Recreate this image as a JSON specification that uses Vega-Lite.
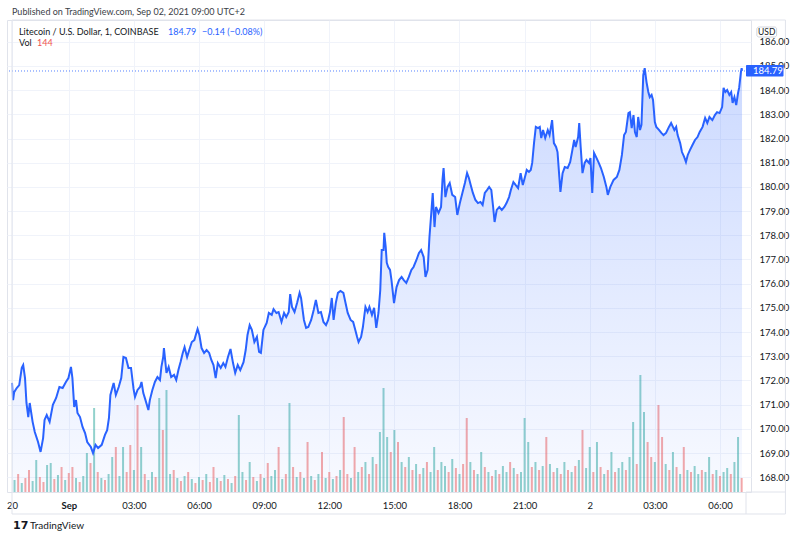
{
  "$schema": "https://vega.github.io/schema/vega-lite/v6.json",
  "width": 744,
  "height": 472,
  "autosize": {"type": "none"},
  "padding": {"left": 7, "top": 20, "right": 49, "bottom": 47},
  "background": "#ffffff",
  "config": {
    "view": {"stroke": "#e0e3eb", "strokeWidth": 1},
    "font": "Lato",
    "text": {"font": "Lato"},
    "axis": {"labelFont": "Lato", "labelFontSize": 9.5, "labelColor": "#131722", "gridColor": "#f0f3fa", "domain": false, "ticks": false, "labelOverlap": false},
    "axisQuantitative": {"tickCount": 20, "labelOverlap": false}
  },
  "datasets": {
    "price": [
      {"t":"2021-08-31T21:23:00Z","p":171.90},{"t":"2021-08-31T21:26:00Z","p":171.19},{"t":"2021-08-31T21:29:00Z","p":171.52},{"t":"2021-08-31T21:36:00Z","p":171.69},{"t":"2021-08-31T21:43:00Z","p":171.81},{"t":"2021-08-31T21:50:00Z","p":172.52},{"t":"2021-08-31T21:54:00Z","p":172.64},{"t":"2021-08-31T21:59:00Z","p":172.10},{"t":"2021-08-31T22:03:00Z","p":171.07},{"t":"2021-08-31T22:08:00Z","p":170.49},
      {"t":"2021-08-31T22:12:00Z","p":171.07},{"t":"2021-08-31T22:20:00Z","p":170.29},{"t":"2021-08-31T22:26:00Z","p":169.87},{"t":"2021-08-31T22:35:00Z","p":169.46},{"t":"2021-08-31T22:42:00Z","p":169.05},{"t":"2021-08-31T22:49:00Z","p":169.62},{"t":"2021-08-31T22:53:00Z","p":170.37},{"t":"2021-08-31T22:59:00Z","p":170.57},{"t":"2021-08-31T23:07:00Z","p":170.29},{"t":"2021-08-31T23:16:00Z","p":170.99},
      {"t":"2021-08-31T23:25:00Z","p":171.28},{"t":"2021-08-31T23:34:00Z","p":171.73},{"t":"2021-08-31T23:43:00Z","p":171.69},{"t":"2021-08-31T23:52:00Z","p":171.94},{"t":"2021-08-31T23:59:00Z","p":172.10},{"t":"2021-09-01T00:06:00Z","p":172.56},{"t":"2021-09-01T00:10:00Z","p":172.10},{"t":"2021-09-01T00:15:00Z","p":170.91},{"t":"2021-09-01T00:20:00Z","p":171.19},{"t":"2021-09-01T00:24:00Z","p":170.66},
      {"t":"2021-09-01T00:31:00Z","p":170.49},{"t":"2021-09-01T00:38:00Z","p":170.08},{"t":"2021-09-01T00:45:00Z","p":169.83},{"t":"2021-09-01T00:51:00Z","p":169.46},{"t":"2021-09-01T01:01:00Z","p":169.25},{"t":"2021-09-01T01:07:00Z","p":169.00},{"t":"2021-09-01T01:14:00Z","p":169.34},{"t":"2021-09-01T01:21:00Z","p":169.21},{"t":"2021-09-01T01:31:00Z","p":169.34},{"t":"2021-09-01T01:40:00Z","p":169.75},
      {"t":"2021-09-01T01:46:00Z","p":169.95},{"t":"2021-09-01T01:51:00Z","p":170.45},{"t":"2021-09-01T01:55:00Z","p":171.40},{"t":"2021-09-01T02:04:00Z","p":171.90},{"t":"2021-09-01T02:10:00Z","p":171.40},{"t":"2021-09-01T02:18:00Z","p":171.73},{"t":"2021-09-01T02:25:00Z","p":172.10},{"t":"2021-09-01T02:31:00Z","p":172.97},{"t":"2021-09-01T02:38:00Z","p":172.93},{"t":"2021-09-01T02:45:00Z","p":172.52},
      {"t":"2021-09-01T02:52:00Z","p":172.52},{"t":"2021-09-01T02:59:00Z","p":171.65},{"t":"2021-09-01T03:03:00Z","p":171.32},{"t":"2021-09-01T03:10:00Z","p":171.61},{"t":"2021-09-01T03:17:00Z","p":171.73},{"t":"2021-09-01T03:21:00Z","p":171.94},{"t":"2021-09-01T03:26:00Z","p":171.48},{"t":"2021-09-01T03:32:00Z","p":171.19},{"t":"2021-09-01T03:40:00Z","p":170.78},{"t":"2021-09-01T03:44:00Z","p":171.19},
      {"t":"2021-09-01T03:51:00Z","p":171.61},{"t":"2021-09-01T03:58:00Z","p":171.94},{"t":"2021-09-01T04:05:00Z","p":172.14},{"t":"2021-09-01T04:12:00Z","p":172.02},{"t":"2021-09-01T04:16:00Z","p":172.56},{"t":"2021-09-01T04:21:00Z","p":172.97},{"t":"2021-09-01T04:23:00Z","p":173.34},{"t":"2021-09-01T04:30:00Z","p":172.31},{"t":"2021-09-01T04:36:00Z","p":172.56},{"t":"2021-09-01T04:43:00Z","p":172.14},
      {"t":"2021-09-01T04:51:00Z","p":172.23},{"t":"2021-09-01T04:57:00Z","p":172.02},{"t":"2021-09-01T05:03:00Z","p":172.43},{"t":"2021-09-01T05:09:00Z","p":172.76},{"t":"2021-09-01T05:15:00Z","p":173.14},{"t":"2021-09-01T05:20:00Z","p":173.38},{"t":"2021-09-01T05:27:00Z","p":172.97},{"t":"2021-09-01T05:33:00Z","p":173.26},{"t":"2021-09-01T05:40:00Z","p":173.59},{"t":"2021-09-01T05:47:00Z","p":173.67},
      {"t":"2021-09-01T05:51:00Z","p":173.88},{"t":"2021-09-01T05:56:00Z","p":174.13},{"t":"2021-09-01T06:01:00Z","p":173.88},{"t":"2021-09-01T06:07:00Z","p":173.34},{"t":"2021-09-01T06:14:00Z","p":173.14},{"t":"2021-09-01T06:21:00Z","p":173.26},{"t":"2021-09-01T06:28:00Z","p":173.14},{"t":"2021-09-01T06:34:00Z","p":172.85},{"t":"2021-09-01T06:40:00Z","p":172.64},{"t":"2021-09-01T06:46:00Z","p":172.10},
      {"t":"2021-09-01T06:52:00Z","p":172.72},{"t":"2021-09-01T07:00:00Z","p":172.52},{"t":"2021-09-01T07:07:00Z","p":172.72},{"t":"2021-09-01T07:13:00Z","p":172.56},{"t":"2021-09-01T07:20:00Z","p":172.97},{"t":"2021-09-01T07:27:00Z","p":173.30},{"t":"2021-09-01T07:34:00Z","p":172.72},{"t":"2021-09-01T07:40:00Z","p":172.31},{"t":"2021-09-01T07:47:00Z","p":172.64},{"t":"2021-09-01T07:54:00Z","p":172.43},
      {"t":"2021-09-01T08:03:00Z","p":172.76},{"t":"2021-09-01T08:09:00Z","p":173.26},{"t":"2021-09-01T08:14:00Z","p":173.88},{"t":"2021-09-01T08:20:00Z","p":174.29},{"t":"2021-09-01T08:26:00Z","p":174.09},{"t":"2021-09-01T08:33:00Z","p":173.59},{"t":"2021-09-01T08:40:00Z","p":173.80},{"t":"2021-09-01T08:46:00Z","p":173.18},{"t":"2021-09-01T08:51:00Z","p":173.14},{"t":"2021-09-01T08:58:00Z","p":174.09},
      {"t":"2021-09-01T09:07:00Z","p":174.38},{"t":"2021-09-01T09:13:00Z","p":174.79},{"t":"2021-09-01T09:21:00Z","p":174.71},{"t":"2021-09-01T09:26:00Z","p":174.95},{"t":"2021-09-01T09:34:00Z","p":174.79},{"t":"2021-09-01T09:40:00Z","p":174.83},{"t":"2021-09-01T09:48:00Z","p":174.42},{"t":"2021-09-01T09:55:00Z","p":174.79},{"t":"2021-09-01T10:01:00Z","p":174.62},{"t":"2021-09-01T10:08:00Z","p":174.83},
      {"t":"2021-09-01T10:12:00Z","p":175.57},{"t":"2021-09-01T10:17:00Z","p":175.04},{"t":"2021-09-01T10:24:00Z","p":174.83},{"t":"2021-09-01T10:31:00Z","p":175.20},{"t":"2021-09-01T10:38:00Z","p":175.62},{"t":"2021-09-01T10:42:00Z","p":175.41},{"t":"2021-09-01T10:50:00Z","p":174.50},{"t":"2021-09-01T10:56:00Z","p":174.17},{"t":"2021-09-01T11:02:00Z","p":174.21},{"t":"2021-09-01T11:10:00Z","p":174.50},
      {"t":"2021-09-01T11:17:00Z","p":174.91},{"t":"2021-09-01T11:23:00Z","p":175.33},{"t":"2021-09-01T11:30:00Z","p":174.79},{"t":"2021-09-01T11:37:00Z","p":174.83},{"t":"2021-09-01T11:44:00Z","p":174.42},{"t":"2021-09-01T11:51:00Z","p":174.29},{"t":"2021-09-01T11:57:00Z","p":174.50},{"t":"2021-09-01T12:02:00Z","p":174.83},{"t":"2021-09-01T12:07:00Z","p":175.41},{"t":"2021-09-01T12:12:00Z","p":174.50},
      {"t":"2021-09-01T12:18:00Z","p":175.20},{"t":"2021-09-01T12:24:00Z","p":175.62},{"t":"2021-09-01T12:31:00Z","p":175.70},{"t":"2021-09-01T12:39:00Z","p":175.62},{"t":"2021-09-01T12:45:00Z","p":175.20},{"t":"2021-09-01T12:51:00Z","p":174.79},{"t":"2021-09-01T12:59:00Z","p":174.50},{"t":"2021-09-01T13:06:00Z","p":174.42},{"t":"2021-09-01T13:12:00Z","p":174.09},{"t":"2021-09-01T13:17:00Z","p":173.80},
      {"t":"2021-09-01T13:21:00Z","p":173.59},{"t":"2021-09-01T13:28:00Z","p":173.80},{"t":"2021-09-01T13:33:00Z","p":174.21},{"t":"2021-09-01T13:40:00Z","p":175.04},{"t":"2021-09-01T13:46:00Z","p":174.83},{"t":"2021-09-01T13:51:00Z","p":175.04},{"t":"2021-09-01T13:58:00Z","p":174.71},{"t":"2021-09-01T14:04:00Z","p":175.00},{"t":"2021-09-01T14:10:00Z","p":174.17},{"t":"2021-09-01T14:16:00Z","p":174.79},
      {"t":"2021-09-01T14:21:00Z","p":175.74},{"t":"2021-09-01T14:25:00Z","p":177.39},{"t":"2021-09-01T14:30:00Z","p":177.39},{"t":"2021-09-01T14:32:00Z","p":178.10},{"t":"2021-09-01T14:36:00Z","p":177.52},{"t":"2021-09-01T14:39:00Z","p":176.86},{"t":"2021-09-01T14:43:00Z","p":176.69},{"t":"2021-09-01T14:48:00Z","p":176.57},{"t":"2021-09-01T14:52:00Z","p":176.15},{"t":"2021-09-01T14:59:00Z","p":175.20},
      {"t":"2021-09-01T15:06:00Z","p":175.86},{"t":"2021-09-01T15:13:00Z","p":176.15},{"t":"2021-09-01T15:20:00Z","p":176.28},{"t":"2021-09-01T15:26:00Z","p":176.15},{"t":"2021-09-01T15:33:00Z","p":176.03},{"t":"2021-09-01T15:40:00Z","p":176.28},{"t":"2021-09-01T15:47:00Z","p":176.57},{"t":"2021-09-01T15:53:00Z","p":176.69},{"t":"2021-09-01T16:01:00Z","p":176.98},{"t":"2021-09-01T16:08:00Z","p":177.27},
      {"t":"2021-09-01T16:14:00Z","p":177.39},{"t":"2021-09-01T16:21:00Z","p":177.10},{"t":"2021-09-01T16:26:00Z","p":176.28},{"t":"2021-09-01T16:32:00Z","p":176.57},{"t":"2021-09-01T16:37:00Z","p":177.93},{"t":"2021-09-01T16:42:00Z","p":178.92},{"t":"2021-09-01T16:46:00Z","p":179.75},{"t":"2021-09-01T16:51:00Z","p":178.34},{"t":"2021-09-01T16:55:00Z","p":179.17},{"t":"2021-09-01T17:02:00Z","p":178.92},
      {"t":"2021-09-01T17:09:00Z","p":179.17},{"t":"2021-09-01T17:13:00Z","p":180.29},{"t":"2021-09-01T17:16:00Z","p":180.78},{"t":"2021-09-01T17:21:00Z","p":179.58},{"t":"2021-09-01T17:27:00Z","p":180.00},{"t":"2021-09-01T17:33:00Z","p":180.16},{"t":"2021-09-01T17:40:00Z","p":179.67},{"t":"2021-09-01T17:48:00Z","p":179.58},{"t":"2021-09-01T17:54:00Z","p":178.84},{"t":"2021-09-01T18:01:00Z","p":179.33},
      {"t":"2021-09-01T18:08:00Z","p":179.75},{"t":"2021-09-01T18:15:00Z","p":180.16},{"t":"2021-09-01T18:21:00Z","p":180.57},{"t":"2021-09-01T18:26:00Z","p":180.37},{"t":"2021-09-01T18:31:00Z","p":180.08},{"t":"2021-09-01T18:37:00Z","p":179.75},{"t":"2021-09-01T18:44:00Z","p":179.46},{"t":"2021-09-01T18:51:00Z","p":179.33},{"t":"2021-09-01T18:58:00Z","p":179.38},{"t":"2021-09-01T19:04:00Z","p":179.25},
      {"t":"2021-09-01T19:10:00Z","p":179.75},{"t":"2021-09-01T19:16:00Z","p":179.87},{"t":"2021-09-01T19:22:00Z","p":180.00},{"t":"2021-09-01T19:28:00Z","p":179.87},{"t":"2021-09-01T19:33:00Z","p":179.17},{"t":"2021-09-01T19:37:00Z","p":178.55},{"t":"2021-09-01T19:43:00Z","p":179.05},{"t":"2021-09-01T19:50:00Z","p":179.17},{"t":"2021-09-01T19:57:00Z","p":179.05},{"t":"2021-09-01T20:04:00Z","p":179.17},
      {"t":"2021-09-01T20:10:00Z","p":179.33},{"t":"2021-09-01T20:17:00Z","p":179.58},{"t":"2021-09-01T20:22:00Z","p":179.87},{"t":"2021-09-01T20:29:00Z","p":180.20},{"t":"2021-09-01T20:35:00Z","p":180.08},{"t":"2021-09-01T20:42:00Z","p":179.95},{"t":"2021-09-01T20:49:00Z","p":180.57},{"t":"2021-09-01T20:55:00Z","p":180.08},{"t":"2021-09-01T21:01:00Z","p":180.41},{"t":"2021-09-01T21:06:00Z","p":180.70},
      {"t":"2021-09-01T21:12:00Z","p":180.62},{"t":"2021-09-01T21:17:00Z","p":180.70},{"t":"2021-09-01T21:21:00Z","p":180.99},{"t":"2021-09-01T21:26:00Z","p":181.81},{"t":"2021-09-01T21:31:00Z","p":182.48},{"t":"2021-09-01T21:37:00Z","p":182.43},{"t":"2021-09-01T21:42:00Z","p":182.48},{"t":"2021-09-01T21:46:00Z","p":182.02},{"t":"2021-09-01T21:51:00Z","p":182.35},{"t":"2021-09-01T21:57:00Z","p":182.02},
      {"t":"2021-09-01T22:04:00Z","p":182.35},{"t":"2021-09-01T22:09:00Z","p":182.14},{"t":"2021-09-01T22:16:00Z","p":182.76},{"t":"2021-09-01T22:21:00Z","p":181.81},{"t":"2021-09-01T22:27:00Z","p":181.65},{"t":"2021-09-01T22:31:00Z","p":181.44},{"t":"2021-09-01T22:36:00Z","p":180.41},{"t":"2021-09-01T22:39:00Z","p":179.79},{"t":"2021-09-01T22:45:00Z","p":180.57},{"t":"2021-09-01T22:51:00Z","p":180.82},
      {"t":"2021-09-01T22:59:00Z","p":180.78},{"t":"2021-09-01T23:06:00Z","p":181.03},{"t":"2021-09-01T23:12:00Z","p":181.52},{"t":"2021-09-01T23:17:00Z","p":181.94},{"t":"2021-09-01T23:21:00Z","p":181.65},{"t":"2021-09-01T23:28:00Z","p":182.06},{"t":"2021-09-01T23:31:00Z","p":182.64},{"t":"2021-09-01T23:35:00Z","p":181.65},{"t":"2021-09-01T23:40:00Z","p":180.57},{"t":"2021-09-01T23:46:00Z","p":180.99},
      {"t":"2021-09-01T23:51:00Z","p":181.11},{"t":"2021-09-01T23:58:00Z","p":180.99},{"t":"2021-09-02T00:02:00Z","p":181.19},{"t":"2021-09-02T00:07:00Z","p":179.75},{"t":"2021-09-02T00:12:00Z","p":181.40},{"t":"2021-09-02T00:19:00Z","p":181.19},{"t":"2021-09-02T00:25:00Z","p":180.99},{"t":"2021-09-02T00:31:00Z","p":180.78},{"t":"2021-09-02T00:39:00Z","p":180.41},{"t":"2021-09-02T00:46:00Z","p":180.00},
      {"t":"2021-09-02T00:50:00Z","p":179.67},{"t":"2021-09-02T00:57:00Z","p":180.00},{"t":"2021-09-02T01:06:00Z","p":180.29},{"t":"2021-09-02T01:15:00Z","p":180.41},{"t":"2021-09-02T01:22:00Z","p":180.70},{"t":"2021-09-02T01:29:00Z","p":181.32},{"t":"2021-09-02T01:35:00Z","p":182.14},{"t":"2021-09-02T01:40:00Z","p":182.27},{"t":"2021-09-02T01:47:00Z","p":183.05},{"t":"2021-09-02T01:51:00Z","p":183.09},
      {"t":"2021-09-02T01:56:00Z","p":182.43},{"t":"2021-09-02T02:01:00Z","p":182.97},{"t":"2021-09-02T02:05:00Z","p":182.27},{"t":"2021-09-02T02:10:00Z","p":182.06},{"t":"2021-09-02T02:14:00Z","p":182.89},{"t":"2021-09-02T02:19:00Z","p":182.35},{"t":"2021-09-02T02:23:00Z","p":182.56},{"t":"2021-09-02T02:28:00Z","p":184.62},{"t":"2021-09-02T02:32:00Z","p":184.91},{"t":"2021-09-02T02:37:00Z","p":184.33},
      {"t":"2021-09-02T02:42:00Z","p":183.92},{"t":"2021-09-02T02:46:00Z","p":183.71},{"t":"2021-09-02T02:51:00Z","p":183.80},{"t":"2021-09-02T02:55:00Z","p":183.59},{"t":"2021-09-02T03:00:00Z","p":182.68},{"t":"2021-09-02T03:04:00Z","p":182.48},{"t":"2021-09-02T03:12:00Z","p":182.35},{"t":"2021-09-02T03:18:00Z","p":182.23},{"t":"2021-09-02T03:24:00Z","p":182.14},{"t":"2021-09-02T03:31:00Z","p":182.23},
      {"t":"2021-09-02T03:39:00Z","p":182.48},{"t":"2021-09-02T03:45:00Z","p":182.64},{"t":"2021-09-02T03:50:00Z","p":182.48},{"t":"2021-09-02T03:54:00Z","p":182.35},{"t":"2021-09-02T03:59:00Z","p":182.48},{"t":"2021-09-02T04:03:00Z","p":182.14},{"t":"2021-09-02T04:10:00Z","p":181.81},{"t":"2021-09-02T04:15:00Z","p":181.44},{"t":"2021-09-02T04:21:00Z","p":181.24},{"t":"2021-09-02T04:26:00Z","p":181.03},
      {"t":"2021-09-02T04:31:00Z","p":181.32},{"t":"2021-09-02T04:37:00Z","p":181.52},{"t":"2021-09-02T04:44:00Z","p":181.73},{"t":"2021-09-02T04:51:00Z","p":181.94},{"t":"2021-09-02T04:58:00Z","p":182.06},{"t":"2021-09-02T05:04:00Z","p":182.27},{"t":"2021-09-02T05:12:00Z","p":182.48},{"t":"2021-09-02T05:19:00Z","p":182.85},{"t":"2021-09-02T05:25:00Z","p":182.64},{"t":"2021-09-02T05:31:00Z","p":182.89},
      {"t":"2021-09-02T05:39:00Z","p":182.76},{"t":"2021-09-02T05:46:00Z","p":182.97},{"t":"2021-09-02T05:52:00Z","p":183.09},{"t":"2021-09-02T05:59:00Z","p":183.05},{"t":"2021-09-02T06:06:00Z","p":183.30},{"t":"2021-09-02T06:10:00Z","p":184.09},{"t":"2021-09-02T06:15:00Z","p":183.92},{"t":"2021-09-02T06:20:00Z","p":184.00},{"t":"2021-09-02T06:26:00Z","p":183.80},{"t":"2021-09-02T06:31:00Z","p":183.92},
      {"t":"2021-09-02T06:35:00Z","p":183.47},{"t":"2021-09-02T06:40:00Z","p":183.71},{"t":"2021-09-02T06:45:00Z","p":183.38},{"t":"2021-09-02T06:50:00Z","p":183.88},{"t":"2021-09-02T06:53:00Z","p":184.09},{"t":"2021-09-02T06:58:00Z","p":184.75},{"t":"2021-09-02T07:00:00Z","p":184.91},{"t":"2021-09-02T07:01:00Z","p":184.79}
    ],
    "vol": [
      {"t":"2021-08-31T21:30:00Z","v":300,"c":"u"},{"t":"2021-08-31T21:40:00Z","v":450,"c":"d"},{"t":"2021-08-31T21:50:00Z","v":225,"c":"u"},{"t":"2021-08-31T22:00:00Z","v":350,"c":"d"},{"t":"2021-08-31T22:10:00Z","v":550,"c":"d"},{"t":"2021-08-31T22:20:00Z","v":275,"c":"u"},{"t":"2021-08-31T22:30:00Z","v":800,"c":"u"},{"t":"2021-08-31T22:40:00Z","v":375,"c":"d"},{"t":"2021-08-31T22:50:00Z","v":250,"c":"d"},{"t":"2021-08-31T23:00:00Z","v":675,"c":"u"},
      {"t":"2021-08-31T23:10:00Z","v":725,"c":"u"},{"t":"2021-08-31T23:20:00Z","v":325,"c":"d"},{"t":"2021-08-31T23:30:00Z","v":425,"c":"u"},{"t":"2021-08-31T23:40:00Z","v":625,"c":"d"},{"t":"2021-08-31T23:50:00Z","v":300,"c":"u"},{"t":"2021-09-01T00:00:00Z","v":475,"c":"d"},{"t":"2021-09-01T00:10:00Z","v":625,"c":"d"},{"t":"2021-09-01T00:20:00Z","v":350,"c":"u"},{"t":"2021-09-01T00:30:00Z","v":250,"c":"d"},{"t":"2021-09-01T00:40:00Z","v":400,"c":"u"},
      {"t":"2021-09-01T00:50:00Z","v":975,"c":"u"},{"t":"2021-09-01T01:00:00Z","v":725,"c":"d"},{"t":"2021-09-01T01:10:00Z","v":2100,"c":"u"},{"t":"2021-09-01T01:20:00Z","v":500,"c":"d"},{"t":"2021-09-01T01:30:00Z","v":350,"c":"u"},{"t":"2021-09-01T01:40:00Z","v":300,"c":"d"},{"t":"2021-09-01T01:50:00Z","v":450,"c":"u"},{"t":"2021-09-01T02:00:00Z","v":875,"c":"u"},{"t":"2021-09-01T02:10:00Z","v":1125,"c":"d"},{"t":"2021-09-01T02:20:00Z","v":400,"c":"u"},
      {"t":"2021-09-01T02:30:00Z","v":1125,"c":"u"},{"t":"2021-09-01T02:40:00Z","v":500,"c":"d"},{"t":"2021-09-01T02:50:00Z","v":1175,"c":"d"},{"t":"2021-09-01T03:00:00Z","v":550,"c":"u"},{"t":"2021-09-01T03:10:00Z","v":2175,"c":"d"},{"t":"2021-09-01T03:20:00Z","v":1125,"c":"u"},{"t":"2021-09-01T03:30:00Z","v":450,"c":"d"},{"t":"2021-09-01T03:40:00Z","v":300,"c":"u"},{"t":"2021-09-01T03:50:00Z","v":500,"c":"u"},{"t":"2021-09-01T04:00:00Z","v":375,"c":"d"},
      {"t":"2021-09-01T04:10:00Z","v":2350,"c":"u"},{"t":"2021-09-01T04:20:00Z","v":1550,"c":"d"},{"t":"2021-09-01T04:30:00Z","v":2550,"c":"u"},{"t":"2021-09-01T04:40:00Z","v":450,"c":"u"},{"t":"2021-09-01T04:50:00Z","v":550,"c":"d"},{"t":"2021-09-01T05:00:00Z","v":350,"c":"u"},{"t":"2021-09-01T05:10:00Z","v":275,"c":"d"},{"t":"2021-09-01T05:20:00Z","v":400,"c":"u"},{"t":"2021-09-01T05:30:00Z","v":500,"c":"d"},{"t":"2021-09-01T05:40:00Z","v":325,"c":"u"},
      {"t":"2021-09-01T05:50:00Z","v":225,"c":"d"},{"t":"2021-09-01T06:00:00Z","v":375,"c":"u"},{"t":"2021-09-01T06:10:00Z","v":300,"c":"d"},{"t":"2021-09-01T06:20:00Z","v":450,"c":"u"},{"t":"2021-09-01T06:30:00Z","v":250,"c":"d"},{"t":"2021-09-01T06:40:00Z","v":625,"c":"d"},{"t":"2021-09-01T06:50:00Z","v":350,"c":"u"},{"t":"2021-09-01T07:00:00Z","v":275,"c":"d"},{"t":"2021-09-01T07:10:00Z","v":425,"c":"u"},{"t":"2021-09-01T07:20:00Z","v":325,"c":"d"},
      {"t":"2021-09-01T07:30:00Z","v":225,"c":"u"},{"t":"2021-09-01T07:40:00Z","v":400,"c":"d"},{"t":"2021-09-01T07:50:00Z","v":1925,"c":"u"},{"t":"2021-09-01T08:00:00Z","v":500,"c":"u"},{"t":"2021-09-01T08:10:00Z","v":300,"c":"d"},{"t":"2021-09-01T08:20:00Z","v":750,"c":"u"},{"t":"2021-09-01T08:30:00Z","v":375,"c":"d"},{"t":"2021-09-01T08:40:00Z","v":275,"c":"u"},{"t":"2021-09-01T08:50:00Z","v":450,"c":"d"},{"t":"2021-09-01T09:00:00Z","v":350,"c":"u"},
      {"t":"2021-09-01T09:10:00Z","v":725,"c":"d"},{"t":"2021-09-01T09:20:00Z","v":400,"c":"u"},{"t":"2021-09-01T09:30:00Z","v":550,"c":"u"},{"t":"2021-09-01T09:40:00Z","v":1125,"c":"d"},{"t":"2021-09-01T09:50:00Z","v":325,"c":"u"},{"t":"2021-09-01T10:00:00Z","v":450,"c":"d"},{"t":"2021-09-01T10:10:00Z","v":2225,"c":"u"},{"t":"2021-09-01T10:20:00Z","v":625,"c":"d"},{"t":"2021-09-01T10:30:00Z","v":375,"c":"u"},{"t":"2021-09-01T10:40:00Z","v":500,"c":"d"},
      {"t":"2021-09-01T10:50:00Z","v":350,"c":"u"},{"t":"2021-09-01T11:00:00Z","v":1250,"c":"d"},{"t":"2021-09-01T11:10:00Z","v":400,"c":"u"},{"t":"2021-09-01T11:20:00Z","v":300,"c":"d"},{"t":"2021-09-01T11:30:00Z","v":450,"c":"u"},{"t":"2021-09-01T11:40:00Z","v":1000,"c":"d"},{"t":"2021-09-01T11:50:00Z","v":350,"c":"u"},{"t":"2021-09-01T12:00:00Z","v":500,"c":"d"},{"t":"2021-09-01T12:10:00Z","v":325,"c":"u"},{"t":"2021-09-01T12:20:00Z","v":400,"c":"d"},
      {"t":"2021-09-01T12:30:00Z","v":550,"c":"u"},{"t":"2021-09-01T12:40:00Z","v":1875,"c":"d"},{"t":"2021-09-01T12:50:00Z","v":450,"c":"d"},{"t":"2021-09-01T13:00:00Z","v":350,"c":"u"},{"t":"2021-09-01T13:10:00Z","v":1125,"c":"d"},{"t":"2021-09-01T13:20:00Z","v":500,"c":"u"},{"t":"2021-09-01T13:30:00Z","v":625,"c":"d"},{"t":"2021-09-01T13:40:00Z","v":750,"c":"u"},{"t":"2021-09-01T13:50:00Z","v":450,"c":"d"},{"t":"2021-09-01T14:00:00Z","v":875,"c":"u"},
      {"t":"2021-09-01T14:10:00Z","v":700,"c":"d"},{"t":"2021-09-01T14:20:00Z","v":1500,"c":"u"},{"t":"2021-09-01T14:30:00Z","v":2600,"c":"u"},{"t":"2021-09-01T14:40:00Z","v":1375,"c":"u"},{"t":"2021-09-01T14:50:00Z","v":1000,"c":"d"},{"t":"2021-09-01T15:00:00Z","v":1550,"c":"u"},{"t":"2021-09-01T15:10:00Z","v":1250,"c":"d"},{"t":"2021-09-01T15:20:00Z","v":750,"c":"u"},{"t":"2021-09-01T15:30:00Z","v":625,"c":"d"},{"t":"2021-09-01T15:40:00Z","v":875,"c":"u"},
      {"t":"2021-09-01T15:50:00Z","v":550,"c":"d"},{"t":"2021-09-01T16:00:00Z","v":700,"c":"u"},{"t":"2021-09-01T16:10:00Z","v":450,"c":"d"},{"t":"2021-09-01T16:20:00Z","v":600,"c":"u"},{"t":"2021-09-01T16:30:00Z","v":750,"c":"d"},{"t":"2021-09-01T16:40:00Z","v":500,"c":"u"},{"t":"2021-09-01T16:50:00Z","v":1125,"c":"u"},{"t":"2021-09-01T17:00:00Z","v":550,"c":"d"},{"t":"2021-09-01T17:10:00Z","v":750,"c":"u"},{"t":"2021-09-01T17:20:00Z","v":650,"c":"u"},
      {"t":"2021-09-01T17:30:00Z","v":500,"c":"d"},{"t":"2021-09-01T17:40:00Z","v":825,"c":"u"},{"t":"2021-09-01T17:50:00Z","v":600,"c":"d"},{"t":"2021-09-01T18:00:00Z","v":450,"c":"u"},{"t":"2021-09-01T18:10:00Z","v":700,"c":"d"},{"t":"2021-09-01T18:20:00Z","v":1850,"c":"d"},{"t":"2021-09-01T18:30:00Z","v":750,"c":"u"},{"t":"2021-09-01T18:40:00Z","v":550,"c":"d"},{"t":"2021-09-01T18:50:00Z","v":450,"c":"u"},{"t":"2021-09-01T19:00:00Z","v":1000,"c":"u"},
      {"t":"2021-09-01T19:10:00Z","v":625,"c":"d"},{"t":"2021-09-01T19:20:00Z","v":500,"c":"u"},{"t":"2021-09-01T19:30:00Z","v":400,"c":"d"},{"t":"2021-09-01T19:40:00Z","v":550,"c":"u"},{"t":"2021-09-01T19:50:00Z","v":450,"c":"d"},{"t":"2021-09-01T20:00:00Z","v":650,"c":"u"},{"t":"2021-09-01T20:10:00Z","v":500,"c":"u"},{"t":"2021-09-01T20:20:00Z","v":750,"c":"d"},{"t":"2021-09-01T20:30:00Z","v":600,"c":"u"},{"t":"2021-09-01T20:40:00Z","v":450,"c":"d"},
      {"t":"2021-09-01T20:50:00Z","v":500,"c":"u"},{"t":"2021-09-01T21:00:00Z","v":1850,"c":"u"},{"t":"2021-09-01T21:10:00Z","v":1250,"c":"u"},{"t":"2021-09-01T21:20:00Z","v":625,"c":"d"},{"t":"2021-09-01T21:30:00Z","v":750,"c":"u"},{"t":"2021-09-01T21:40:00Z","v":550,"c":"d"},{"t":"2021-09-01T21:50:00Z","v":650,"c":"u"},{"t":"2021-09-01T22:00:00Z","v":1375,"c":"d"},{"t":"2021-09-01T22:10:00Z","v":700,"c":"u"},{"t":"2021-09-01T22:20:00Z","v":500,"c":"d"},
      {"t":"2021-09-01T22:30:00Z","v":600,"c":"u"},{"t":"2021-09-01T22:40:00Z","v":450,"c":"d"},{"t":"2021-09-01T22:50:00Z","v":750,"c":"u"},{"t":"2021-09-01T23:00:00Z","v":550,"c":"d"},{"t":"2021-09-01T23:10:00Z","v":500,"c":"u"},{"t":"2021-09-01T23:20:00Z","v":650,"c":"d"},{"t":"2021-09-01T23:30:00Z","v":800,"c":"u"},{"t":"2021-09-01T23:40:00Z","v":1550,"c":"d"},{"t":"2021-09-01T23:50:00Z","v":600,"c":"u"},{"t":"2021-09-02T00:00:00Z","v":1125,"c":"u"},
      {"t":"2021-09-02T00:10:00Z","v":500,"c":"d"},{"t":"2021-09-02T00:20:00Z","v":1250,"c":"u"},{"t":"2021-09-02T00:30:00Z","v":625,"c":"d"},{"t":"2021-09-02T00:40:00Z","v":450,"c":"u"},{"t":"2021-09-02T00:50:00Z","v":550,"c":"d"},{"t":"2021-09-02T01:00:00Z","v":1000,"c":"u"},{"t":"2021-09-02T01:10:00Z","v":500,"c":"d"},{"t":"2021-09-02T01:20:00Z","v":600,"c":"u"},{"t":"2021-09-02T01:30:00Z","v":750,"c":"u"},{"t":"2021-09-02T01:40:00Z","v":550,"c":"d"},
      {"t":"2021-09-02T01:50:00Z","v":875,"c":"u"},{"t":"2021-09-02T02:00:00Z","v":1750,"c":"u"},{"t":"2021-09-02T02:10:00Z","v":700,"c":"d"},{"t":"2021-09-02T02:20:00Z","v":2925,"c":"u"},{"t":"2021-09-02T02:30:00Z","v":2000,"c":"u"},{"t":"2021-09-02T02:40:00Z","v":1250,"c":"d"},{"t":"2021-09-02T02:50:00Z","v":875,"c":"d"},{"t":"2021-09-02T03:00:00Z","v":750,"c":"u"},{"t":"2021-09-02T03:10:00Z","v":2175,"c":"d"},{"t":"2021-09-02T03:20:00Z","v":1375,"c":"d"},
      {"t":"2021-09-02T03:30:00Z","v":700,"c":"u"},{"t":"2021-09-02T03:40:00Z","v":550,"c":"d"},{"t":"2021-09-02T03:50:00Z","v":1000,"c":"u"},{"t":"2021-09-02T04:00:00Z","v":625,"c":"d"},{"t":"2021-09-02T04:10:00Z","v":450,"c":"u"},{"t":"2021-09-02T04:20:00Z","v":1125,"c":"d"},{"t":"2021-09-02T04:30:00Z","v":550,"c":"u"},{"t":"2021-09-02T04:40:00Z","v":500,"c":"d"},{"t":"2021-09-02T04:50:00Z","v":650,"c":"u"},{"t":"2021-09-02T05:00:00Z","v":450,"c":"u"},
      {"t":"2021-09-02T05:10:00Z","v":550,"c":"d"},{"t":"2021-09-02T05:20:00Z","v":500,"c":"u"},{"t":"2021-09-02T05:30:00Z","v":875,"c":"u"},{"t":"2021-09-02T05:40:00Z","v":450,"c":"d"},{"t":"2021-09-02T05:50:00Z","v":550,"c":"u"},{"t":"2021-09-02T06:00:00Z","v":400,"c":"d"},{"t":"2021-09-02T06:10:00Z","v":500,"c":"u"},{"t":"2021-09-02T06:20:00Z","v":600,"c":"u"},{"t":"2021-09-02T06:30:00Z","v":450,"c":"d"},{"t":"2021-09-02T06:40:00Z","v":750,"c":"u"},
      {"t":"2021-09-02T06:50:00Z","v":1375,"c":"u"},{"t":"2021-09-02T07:00:00Z","v":350,"c":"d"}
    ]
  },
  "layer": [
    {
      "data": {"name": "vol"},
      "mark": {"type": "bar", "width": 2, "opacity": 0.5},
      "encoding": {
        "x": {
          "field": "t", "type": "temporal",
          "scale": {"type": "utc", "nice": false, "domain": [{"year": 2021, "month": 8, "date": 31, "hours": 21, "minutes": 23, "utc": true}, {"year": 2021, "month": 9, "date": 2, "hours": 7, "minutes": 12, "utc": true}]},
          "axis": {
            "title": null,
            "grid": true,
            "labelPadding": 8,
            "labelFlush": true,
            "labelOverlap": false,
            "values": [
              {"year": 2021, "month": 8, "date": 31, "hours": 21, "minutes": 23, "utc": true},
              {"year": 2021, "month": 9, "date": 1, "hours": 0, "utc": true},
              {"year": 2021, "month": 9, "date": 1, "hours": 3, "utc": true},
              {"year": 2021, "month": 9, "date": 1, "hours": 6, "utc": true},
              {"year": 2021, "month": 9, "date": 1, "hours": 9, "utc": true},
              {"year": 2021, "month": 9, "date": 1, "hours": 12, "utc": true},
              {"year": 2021, "month": 9, "date": 1, "hours": 15, "utc": true},
              {"year": 2021, "month": 9, "date": 1, "hours": 18, "utc": true},
              {"year": 2021, "month": 9, "date": 1, "hours": 21, "utc": true},
              {"year": 2021, "month": 9, "date": 2, "hours": 0, "utc": true},
              {"year": 2021, "month": 9, "date": 2, "hours": 3, "utc": true},
              {"year": 2021, "month": 9, "date": 2, "hours": 6, "utc": true}
            ],
            "labelExpr": "utcFormat(datum.value, '%H:%M') == '21:23' ? '20' : (utcFormat(datum.value, '%H:%M') != '00:00' ? utcFormat(datum.value, '%H:%M') : (utcFormat(datum.value, '%d') == '01' ? 'Sep' : '2'))",
            "labelFontWeight": {"condition": {"test": "utcFormat(datum.value, '%d %H:%M') == '01 00:00'", "value": "bold"}, "value": "normal"}
          }
        },
        "y": {"field": "v", "type": "quantitative", "scale": {"domain": [0, 11800], "nice": false}, "axis": null},
        "color": {"field": "c", "type": "nominal", "scale": {"domain": ["u", "d"], "range": ["#26a69a", "#ef5350"]}, "legend": null}
      }
    },
    {
      "layer": [
        {
          "data": {"name": "price"},
          "mark": {
            "type": "area",
            "color": {"gradient": "linear", "x1": 1, "y1": 1, "x2": 1, "y2": 0, "stops": [{"offset": 0, "color": "rgba(41,98,255,0.03)"}, {"offset": 1, "color": "rgba(41,98,255,0.24)"}]}
          },
          "encoding": {
            "x": {"field": "t", "type": "temporal"},
            "y": {
              "field": "p", "type": "quantitative",
              "scale": {"domain": [167.392, 186.897], "nice": false, "zero": false},
              "axis": {"orient": "right", "title": null, "grid": true, "labelPadding": 8, "labelOverlap": false, "tickCount": 20, "format": ".2f", "values": [168, 169, 170, 171, 172, 173, 174, 175, 176, 177, 178, 179, 180, 181, 182, 183, 184, 185, 186]}
            },
            "y2": {"datum": 167.392}
          }
        },
        {
          "data": {"name": "price"},
          "mark": {"type": "line", "color": "#2962ff", "strokeWidth": 2},
          "encoding": {
            "x": {"field": "t", "type": "temporal"},
            "y": {
              "field": "p", "type": "quantitative",
              "scale": {"domain": [167.392, 186.897], "nice": false, "zero": false},
              "axis": {"orient": "right", "title": null, "grid": true, "labelPadding": 8, "labelOverlap": false, "tickCount": 20, "format": ".2f", "values": [168, 169, 170, 171, 172, 173, 174, 175, 176, 177, 178, 179, 180, 181, 182, 183, 184, 185, 186]}
            }
          }
        },
        {
          "data": {"values": [{"last": 184.79}]},
          "mark": {"type": "rule", "color": "#2962ff", "strokeWidth": 1, "strokeDash": [1, 2], "opacity": 0.8},
          "encoding": {"y": {"field": "last", "type": "quantitative"}}
        },
        {
          "data": {"values": [{"last": 184.79}]},
          "mark": {"type": "rect", "color": "#2962ff", "cornerRadius": 1},
          "encoding": {
            "x": {"datum": {"year": 2021, "month": 9, "date": 2, "hours": 7, "minutes": 12, "utc": true}},
            "x2": {"datum": {"year": 2021, "month": 9, "date": 2, "hours": 8, "minutes": 55, "seconds": 42, "utc": true}},
            "y": {"datum": 185.037},
            "y2": {"datum": 184.562}
          }
        },
        {
          "data": {"values": [{"last": "184.79"}]},
          "mark": {"type": "text", "color": "#ffffff", "fontSize": 9.5, "align": "left", "baseline": "middle", "dx": 7},
          "encoding": {
            "x": {"datum": {"year": 2021, "month": 9, "date": 2, "hours": 7, "minutes": 12, "utc": true}},
            "y": {"datum": 184.79},
            "text": {"field": "last"}
          }
        },
        {
          "data": {"values": [{"u": "USD"}]},
          "mark": {"type": "rect", "filled": false, "color": "#d1d4dc", "cornerRadius": 2, "strokeWidth": 1},
          "encoding": {
            "x": {"datum": {"year": 2021, "month": 9, "date": 2, "hours": 7, "minutes": 42, "utc": true}},
            "x2": {"datum": {"year": 2021, "month": 9, "date": 2, "hours": 8, "minutes": 36, "seconds": 36, "utc": true}},
            "y": {"datum": 186.607},
            "y2": {"datum": 186.194}
          }
        },
        {
          "data": {"values": [{"u": "USD"}]},
          "mark": {"type": "text", "color": "#131722", "fontSize": 8.5, "align": "center", "baseline": "middle"},
          "encoding": {
            "x": {"datum": {"year": 2021, "month": 9, "date": 2, "hours": 8, "minutes": 9, "seconds": 18, "utc": true}},
            "y": {"datum": 186.40},
            "text": {"field": "u"}
          }
        },
        {
          "data": {"values": [{"s": "Published on TradingView.com, Sep 02, 2021 09:00 UTC+2"}]},
          "mark": {"type": "text", "color": "#3b3e47", "fontSize": 9, "align": "left", "baseline": "middle", "dx": 0},
          "encoding": {
            "x": {"datum": {"year": 2021, "month": 8, "date": 31, "hours": 21, "minutes": 23, "utc": true}},
            "y": {"datum": 187.215},
            "text": {"field": "s"}
          }
        },
        {
          "data": {"values": [{"s": "Litecoin / U.S. Dollar, 1, COINBASE"}]},
          "mark": {"type": "text", "color": "#131722", "fontSize": 9, "align": "left", "baseline": "middle", "dx": 7},
          "encoding": {
            "x": {"datum": {"year": 2021, "month": 8, "date": 31, "hours": 21, "minutes": 23, "utc": true}},
            "y": {"datum": 186.42},
            "text": {"field": "s"}
          }
        },
        {
          "data": {"values": [{"s": "184.79"}]},
          "mark": {"type": "text", "color": "#2962ff", "fontSize": 9, "align": "left", "baseline": "middle", "dx": 156},
          "encoding": {
            "x": {"datum": {"year": 2021, "month": 8, "date": 31, "hours": 21, "minutes": 23, "utc": true}},
            "y": {"datum": 186.42},
            "text": {"field": "s"}
          }
        },
        {
          "data": {"values": [{"s": "−0.14 (−0.08%)"}]},
          "mark": {"type": "text", "color": "#2962ff", "fontSize": 9, "align": "left", "baseline": "middle", "dx": 190},
          "encoding": {
            "x": {"datum": {"year": 2021, "month": 8, "date": 31, "hours": 21, "minutes": 23, "utc": true}},
            "y": {"datum": 186.42},
            "text": {"field": "s"}
          }
        },
        {
          "data": {"values": [{"s": "Vol"}]},
          "mark": {"type": "text", "color": "#131722", "fontSize": 9, "align": "left", "baseline": "middle", "dx": 7},
          "encoding": {
            "x": {"datum": {"year": 2021, "month": 8, "date": 31, "hours": 21, "minutes": 23, "utc": true}},
            "y": {"datum": 185.93},
            "text": {"field": "s"}
          }
        },
        {
          "data": {"values": [{"s": "144"}]},
          "mark": {"type": "text", "color": "#ef5350", "fontSize": 9, "align": "left", "baseline": "middle", "dx": 25},
          "encoding": {
            "x": {"datum": {"year": 2021, "month": 8, "date": 31, "hours": 21, "minutes": 23, "utc": true}},
            "y": {"datum": 185.93},
            "text": {"field": "s"}
          }
        },
        {
          "data": {"values": [{"s": "17"}]},
          "mark": {"type": "text", "color": "#131722", "fontSize": 11, "fontWeight": 900, "font": "DejaVu Sans", "align": "left", "baseline": "middle", "dx": 1},
          "encoding": {
            "x": {"datum": {"year": 2021, "month": 8, "date": 31, "hours": 21, "minutes": 23, "utc": true}},
            "y": {"datum": 165.99},
            "text": {"field": "s"}
          }
        },
        {
          "data": {"values": [{"s": "TradingView"}]},
          "mark": {"type": "text", "color": "#131722", "fontSize": 10, "align": "left", "baseline": "middle", "dx": 18},
          "encoding": {
            "x": {"datum": {"year": 2021, "month": 8, "date": 31, "hours": 21, "minutes": 23, "utc": true}},
            "y": {"datum": 165.99},
            "text": {"field": "s"}
          }
        },
        {
          "data": {"values": [{"f": 1}]},
          "mark": {"type": "rect", "filled": false, "color": "#e0e3eb", "strokeWidth": 1},
          "encoding": {
            "x": {"datum": {"year": 2021, "month": 8, "date": 31, "hours": 21, "minutes": 23, "utc": true}},
            "x2": {"datum": {"year": 2021, "month": 9, "date": 2, "hours": 9, "minutes": 1, "utc": true}},
            "y": {"datum": 186.897},
            "y2": {"datum": 166.483}
          }
        },
        {
          "data": {"values": [{"f": 1}]},
          "mark": {"type": "rule", "color": "#e0e3eb", "strokeWidth": 1},
          "encoding": {
            "x": {"datum": {"year": 2021, "month": 9, "date": 2, "hours": 7, "minutes": 12, "utc": true}},
            "y": {"datum": 167.392},
            "y2": {"datum": 166.483}
          }
        },
        {
          "data": {"values": [{"f": 1}]},
          "mark": {"type": "rule", "color": "#e0e3eb", "strokeWidth": 1},
          "encoding": {
            "x": {"datum": {"year": 2021, "month": 9, "date": 2, "hours": 7, "minutes": 12, "utc": true}},
            "x2": {"datum": {"year": 2021, "month": 9, "date": 2, "hours": 9, "minutes": 1, "utc": true}},
            "y": {"datum": 167.392}
          }
        }
      ]
    }
  ],
  "resolve": {"scale": {"y": "independent"}}
}
